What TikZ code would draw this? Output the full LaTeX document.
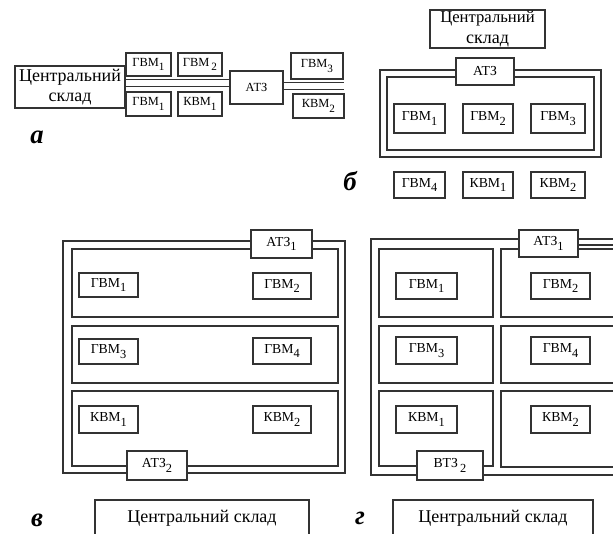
\documentclass[tikz,border=0pt]{standalone}
\usepackage{fontspec}
\setmainfont{Liberation Serif}
\newcommand\lo[1]{\raisebox{-0.35em}{\scalebox{0.9}{#1}}}
\newcommand\bx[7]{%
  \pgfmathsetmacro\bxw{(#5-#3)*0.75}%
  \pgfmathsetmacro\bxh{(#6-#4)*0.75}%
  \node[#1,minimum width=\bxw pt,minimum height=\bxh pt] (#2) at ({(#3+#5)/2},{(#4+#6)/2}) {#7};}
\tikzset{
  ln/.style={draw=black!80, line width=1.1pt},
  box/.style={ln, fill=white, inner sep=0pt, font=\fontsize{10.3}{12}\selectfont},
  sbox/.style={box, font=\fontsize{9.3}{11}\selectfont},
  skbox/.style={box, align=center, font=\fontsize{13.5}{15.5}\selectfont},
  tag/.style={font=\fontsize{20}{22}\selectfont\bfseries\itshape, inner sep=0pt}
}
\begin{document}
\begin{tikzpicture}[x=0.75pt,y=-0.75pt]
\useasboundingbox (0,0) rectangle (613,534);
\clip (0,0) rectangle (613,534);
\fill[white] (0,0) rectangle (613,534);

% ---------- a ----------
\bx{skbox}{a-sk}{15}{66}{125}{108}{Центральний\\склад}
\bx{sbox}{a-atz}{230}{71}{283}{104}{АТЗ}
\coordinate (a-l1) at (0,79.5);
\coordinate (a-l2) at (0,86.5);
\coordinate (a-r1) at (344,82.5);
\coordinate (a-r2) at (344,89.5);
\draw[ln] (a-sk.east |- a-l1) -- (a-atz.west |- a-l1);
\draw[ln] (a-sk.east |- a-l2) -- (a-atz.west |- a-l2);
\draw[ln] (a-atz.east |- a-r1) -- (a-r1);
\draw[ln] (a-atz.east |- a-r2) -- (a-r2);
\bx{sbox}{a-g1t}{126}{53}{171}{76}{ГВМ\lo{1}}
\bx{sbox}{a-g2}{178}{53}{222}{76}{ГВМ\,\lo{2}}
\bx{sbox}{a-g1b}{126}{92}{171}{116}{ГВМ\lo{1}}
\bx{sbox}{a-k1}{178}{92}{222}{116}{КВМ\lo{1}}
\bx{sbox}{a-g3}{291}{53}{343}{79}{ГВМ\lo{3}}
\bx{sbox}{a-k2}{293}{94}{344}{118}{КВМ\lo{2}}
\node[tag] (a-tag) at (37,137) {а};

% ---------- b ----------
\bx{skbox}{b-sk}{430}{10}{545}{48}{\fontsize{12.5}{12.5}\selectfont Центральний\\склад}
\draw[ln] (380,70) rectangle (601,157);
\draw[ln] (387,77) rectangle (594,150);
\bx{box}{b-atz}{456}{58}{514}{85}{АТЗ}
\bx{box}{b-g1}{394}{104}{445}{133}{ГВМ\lo{1}}
\bx{box}{b-g2}{463}{104}{513}{133}{ГВМ\lo{2}}
\bx{box}{b-g3}{531}{104}{585}{133}{ГВМ\lo{3}}
\bx{box}{b-g4}{394}{172}{445}{198}{ГВМ\lo{4}}
\bx{box}{b-k1}{463}{172}{513}{198}{КВМ\lo{1}}
\bx{box}{b-k2}{531}{172}{585}{198}{КВМ\lo{2}}
\node[tag] (b-tag) at (350,181) {б};

% ---------- v ----------
\draw[ln] (63,241) rectangle (345,473);
\draw[ln] (72,249) rectangle (338,317);
\draw[ln] (72,326) rectangle (338,383);
\draw[ln] (72,391) rectangle (338,466);
\bx{box}{c-atz1}{251}{230}{312}{258}{АТЗ\lo{1}}
\bx{box}{c-atz2}{127}{451}{187}{480}{АТЗ\lo{2}}
\bx{box}{c-g1}{79}{273}{138}{297}{ГВМ\lo{1}}
\bx{box}{c-g2}{253}{273}{311}{299}{ГВМ\lo{2}}
\bx{box}{c-g3}{79}{339}{138}{364}{ГВМ\lo{3}}
\bx{box}{c-g4}{253}{338}{311}{364}{ГВМ\lo{4}}
\bx{box}{c-k1}{79}{406}{138}{433}{КВМ\lo{1}}
\bx{box}{c-k2}{253}{406}{311}{433}{КВМ\lo{2}}
\bx{skbox}{c-sk}{95}{500}{309}{536}{\raisebox{3pt}{Центральний склад}}
\node[tag] (c-tag) at (37,520) {в};

% ---------- g ----------
\draw[ln] (371,239) rectangle (660,475);
\draw[ln] (379,249) rectangle (493,317);
\draw[ln] (379,326) rectangle (493,383);
\draw[ln] (379,391) rectangle (493,466);
\draw[ln] (501,249) rectangle (660,317);
\draw[ln] (501,326) rectangle (660,383);
\draw[ln] (501,391) rectangle (660,467);
\bx{box}{d-atz1}{519}{230}{578}{257}{АТЗ\lo{1}}
\coordinate (d-r) at (660,245);
\draw[ln] (d-atz1.east |- d-r) -- (d-r);
\bx{box}{d-vtz2}{417}{451}{483}{480}{ВТЗ\,\lo{2}}
\bx{box}{d-g1}{396}{273}{457}{299}{ГВМ\lo{1}}
\bx{box}{d-g2}{531}{273}{590}{299}{ГВМ\lo{2}}
\bx{box}{d-g3}{396}{337}{457}{364}{ГВМ\lo{3}}
\bx{box}{d-g4}{531}{337}{590}{364}{ГВМ\lo{4}}
\bx{box}{d-k1}{396}{406}{457}{433}{КВМ\lo{1}}
\bx{box}{d-k2}{531}{406}{590}{433}{КВМ\lo{2}}
\bx{skbox}{d-sk}{393}{500}{593}{536}{\raisebox{3pt}{Центральний склад}}
\node[tag] (d-tag) at (360,518) {г};
\end{tikzpicture}
\end{document}
